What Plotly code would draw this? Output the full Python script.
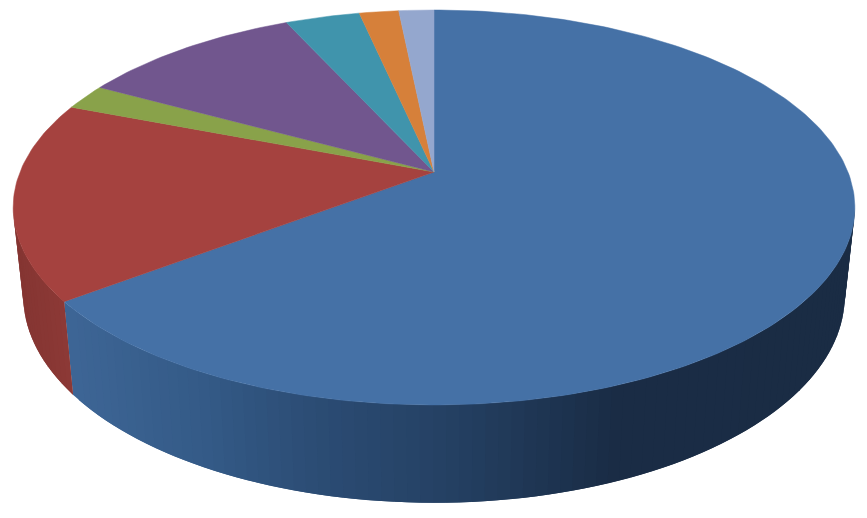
import numpy as np
import plotly.graph_objects as go

# Slice data (clockwise from 12 o'clock)
categories = ["A", "B", "C", "D", "E", "F", "G"]
values = [64.6, 16.2, 2.1, 10.2, 3.4, 1.8, 1.6]
top_colors = ["#4571A6", "#A5423F", "#89A24A", "#71568E", "#4094AC", "#D6803A", "#94A7CE"]

# Wall shading: position across the chart -> colour
wall_stops = [65, 200, 300, 434, 600, 867]
blue_wall = [(62, 102, 150), (52, 90, 135), (44, 77, 117), (37, 65, 100), (26, 45, 70), (26, 44, 68)]
red_wall = [(132, 53, 50), (142, 58, 55)]
red_wall_stops = [13, 70]

W, H = 867, 518
CX, TOP_Y, AX, BY, K = 434.0, 172.0, 414.0, 191.1, 0.1796
SCALE_LOW, LOW_Y, LOW_B = 0.976, 259.0, 200.0


def top(t):
    X, Y = np.sin(t), np.cos(t)
    d = 1 + K * Y
    return CX + AX * X / d, TOP_Y - BY * Y / d


def bottom(t):
    X, Y = np.sin(t), np.cos(t)
    d = 1 + K * Y
    return CX + SCALE_LOW * AX * X / d, LOW_Y - LOW_B * Y / d


def shade(x, stops, cols):
    return "rgb(%d,%d,%d)" % tuple(np.interp(x, stops, [c[i] for c in cols]) for i in range(3))


fig = go.Figure()


def poly(x, y, color, width):
    fig.add_trace(go.Scatter(
        x=list(x) + [x[0]], y=list(y) + [y[0]], mode="lines", fill="toself",
        fillcolor=color, line=dict(color=color, width=width),
        hoverinfo="skip", showlegend=False))


edges = np.concatenate([[0], np.cumsum(values)]) / np.sum(values) * 2 * np.pi
t_front = np.arccos(-K)  # tangent angle of the silhouette

# Walls: each strip overlaps the previous one so no seam shows between them
for i, name in enumerate(categories):
    a = max(edges[i], t_front)
    b = min(edges[i + 1], 2 * np.pi - t_front)
    if b <= a:
        continue
    n = max(1, int(np.degrees(b - a) / 1.5))
    ts = np.linspace(a, b, n + 1)
    for k in range(n):
        t0, t1 = ts[max(0, k - 1)], ts[k + 1]
        x0, y0 = top(t0)
        x1, y1 = top(t1)
        x2, y2 = bottom(t1)
        x3, y3 = bottom(t0)
        xm = (top(ts[k])[0] + x1 + x2 + bottom(ts[k])[0]) / 4
        col = shade(xm, wall_stops, blue_wall) if i == 0 else shade(xm, red_wall_stops, red_wall)
        poly([x0, x1, x2, x3], [y0, y1, y2, y3], col, 0)

# Top face
for i, name in enumerate(categories):
    ts = np.linspace(edges[i], edges[i + 1], max(4, int(np.degrees(edges[i + 1] - edges[i]))))
    x, y = top(ts)
    poly([CX] + list(x), [TOP_Y] + list(y), top_colors[i], 0.5)

fig.update_layout(
    width=W, height=H, margin=dict(l=0, r=0, t=0, b=0), autosize=False,
    paper_bgcolor="white", plot_bgcolor="white", showlegend=False,
    xaxis=dict(range=[0, W], visible=False, fixedrange=True),
    yaxis=dict(range=[H, 0], visible=False, fixedrange=True),
)
fig.write_html(
    "out.html", config={"displayModeBar": False},
    post_script="document.body.style.margin='0';document.documentElement.style.overflow='hidden';",
)
